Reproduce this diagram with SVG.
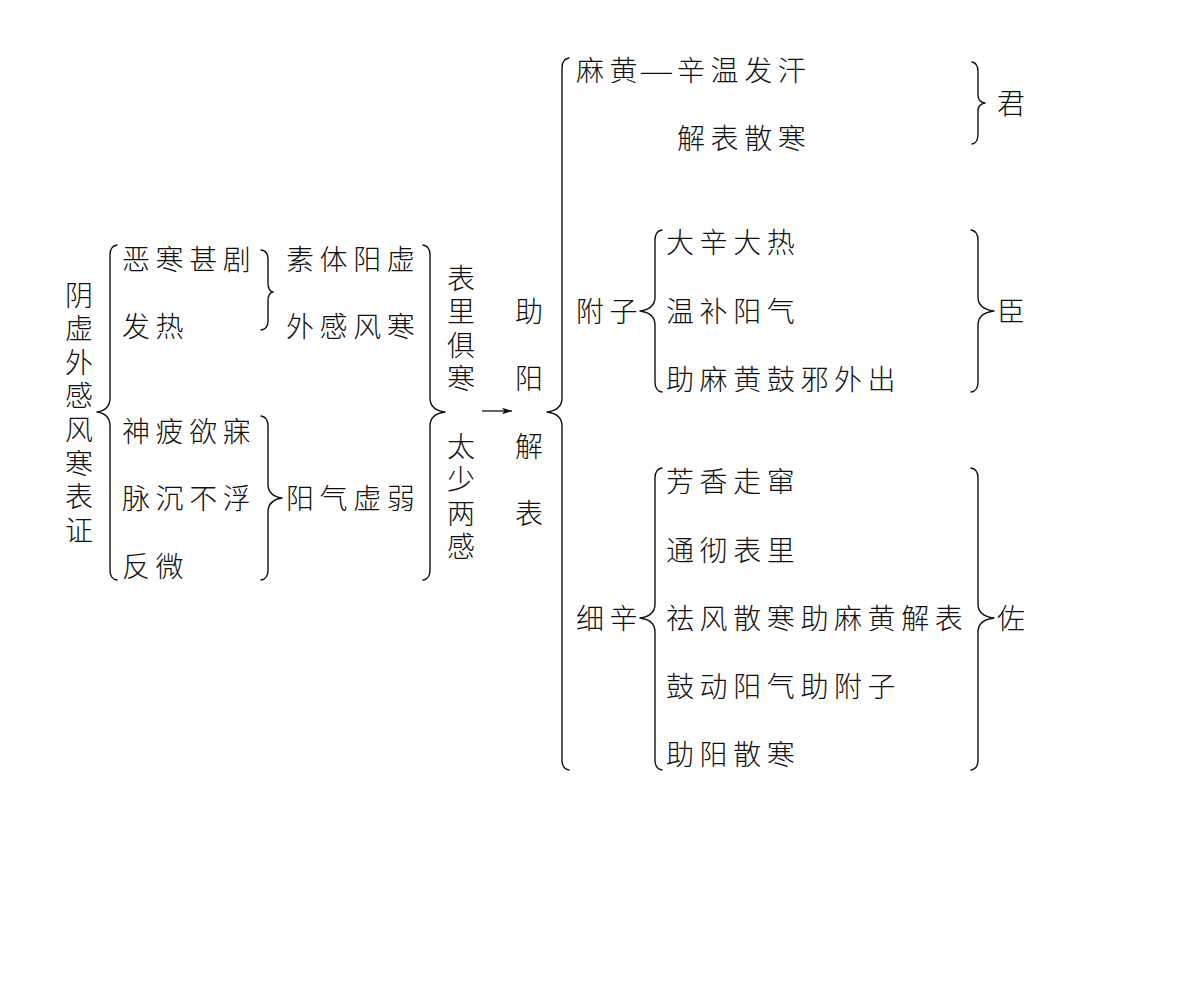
<svg xmlns="http://www.w3.org/2000/svg" width="1192" height="987" viewBox="0 0 1192 987">
<defs>
<style>
text{font-family:"Noto Sans CJK SC","Noto Sans CJK JP",sans-serif;font-size:28px;font-weight:300;fill:#111;letter-spacing:5.6px}
.vt{writing-mode:vertical-rl;text-orientation:upright}
.br{fill:none;stroke:#111;stroke-width:1.4;stroke-linecap:round;stroke-linejoin:round}
</style>
<marker id="ah" viewBox="0 0 10 8" refX="10" refY="4" markerWidth="11" markerHeight="8" markerUnits="userSpaceOnUse" orient="auto">
<path d="M0,0.8 L10,4 L0,7.2 L2.5,4 Z" fill="#111"/>
</marker>
</defs>
<rect width="1192" height="987" fill="#fff"/>

<g id="connectors">
<path class="br" id="b1" d="M117,245 Q110,246 110,255 L110,398 Q110,410 97,412 Q110,414 110,426 L110,570 Q110,579 117,580"/>
<path class="br" id="b2a" d="M261,250 Q268,251 268,259 L268,283 Q268,291 273,292 Q268,293 268,301 L268,321 Q268,329 261,330"/>
<path class="br" id="b2b" d="M261,416 Q268,417 268,426 L268,484 Q268,496 282,498 Q268,500 268,512 L268,570 Q268,579 261,580"/>
<path class="br" id="b3" d="M423,245 Q430,246 430,255 L430,398 Q430,410 445,412 Q430,414 430,426 L430,570 Q430,579 423,580"/>
<path class="br" id="b4" d="M569,58 Q562,59 562,68 L562,398 Q562,410 547,412 Q562,414 562,426 L562,760 Q562,769 569,770"/>
<path class="br" id="b5" d="M972,62 Q978,63 978,72 L978,95 Q978,102 985,103 Q978,104 978,111 L978,134 Q978,143 972,144"/>
<path class="br" id="b6" d="M662,230 Q655,231 655,240 L655,297 Q655,309 640,311 Q655,313 655,325 L655,382 Q655,391 662,392"/>
<path class="br" id="b7" d="M971,230 Q978,231 978,240 L978,297 Q978,309 994,311 Q978,313 978,325 L978,382 Q978,391 971,392"/>
<path class="br" id="b8" d="M662,468 Q655,469 655,478 L655,604 Q655,616 640,618 Q655,620 655,632 L655,760 Q655,769 662,770"/>
<path class="br" id="b9" d="M971,468 Q978,469 978,478 L978,604 Q978,616 994,618 Q978,620 978,632 L978,760 Q978,769 971,770"/>
<line id="arrow" x1="482" y1="411" x2="512" y2="411" stroke="#111" stroke-width="1.3" marker-end="url(#ah)"/>
</g>

<g id="n-root">
<text class="vt" x="79" y="281">阴虚外感风寒表证</text>
</g>
<g id="n-symptoms">
<text x="122" y="269.6">恶寒甚剧</text>
<text x="122" y="336.6">发热</text>
<text x="122" y="441.6">神疲欲寐</text>
<text x="122" y="508.6">脉沉不浮</text>
<text x="122" y="576.6">反微</text>
</g>
<g id="n-causes">
<text x="286" y="269.6">素体阳虚</text>
<text x="286" y="336.6">外感风寒</text>
<text x="286" y="508.6">阳气虚弱</text>
</g>
<g id="n-biaoli">
<text class="vt" x="461" y="264" style="letter-spacing:5.5px">表里俱寒</text>
</g>
<g id="n-taishao">
<text class="vt" x="461" y="432" style="letter-spacing:5.5px">太少两感</text>
</g>
<g id="n-zhuyang">
<text class="vt" x="529" y="297" style="letter-spacing:39.5px">助阳解表</text>
</g>
<g id="n-mahuang">
<text x="576 609.6" y="80.6" style="letter-spacing:0">麻黄</text>
<text transform="translate(639,80.6) scale(1.4,1)" x="0" y="0" style="letter-spacing:0">—</text>
<text x="677" y="80.6">辛温发汗</text>
<text x="677" y="148.6">解表散寒</text>
</g>
<g id="n-jun"><text x="997" y="113.6">君</text></g>
<g id="n-fuzi">
<text x="576" y="321.6">附子</text>
<text x="666" y="252.6">大辛大热</text>
<text x="666" y="321.6">温补阳气</text>
<text x="666" y="390">助麻黄鼓邪外出</text>
</g>
<g id="n-chen"><text x="997" y="321.6">臣</text></g>
<g id="n-xixin">
<text x="576" y="628.6">细辛</text>
<text x="666" y="491.6">芳香走窜</text>
<text x="666" y="560.6">通彻表里</text>
<text x="666" y="628.6">祛风散寒助麻黄解表</text>
<text x="666" y="696.6">鼓动阳气助附子</text>
<text x="666" y="764.6">助阳散寒</text>
</g>
<g id="n-zuo"><text x="997" y="628.6">佐</text></g>
</svg>
